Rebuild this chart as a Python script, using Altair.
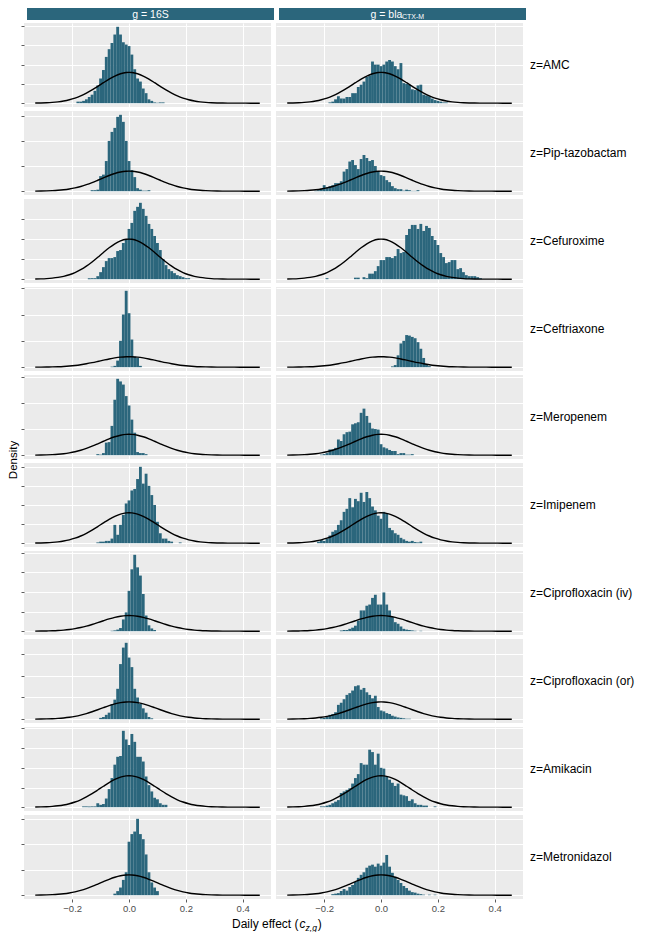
import altair as alt
import pandas as pd

# ---------------- data ----------------
antibiotics = ["AMC", "Pip-tazobactam", "Cefuroxime", "Ceftriaxone", "Meropenem",
               "Imipenem", "Ciprofloxacin (iv)", "Ciprofloxacin (or)", "Amikacin", "Metronidazol"]
row_labels = ["z=" + a for a in antibiotics]

bin_width = 0.01
# centre of the first bin of each histogram (one per row)
first_bin_16s = [-0.18, -0.13, -0.14, -0.06, -0.11, -0.11, -0.06, -0.10, -0.16, -0.05]
first_bin_ctx = [-0.18, -0.23, -0.19, 0.04, -0.21, -0.22, -0.14, -0.21, -0.21, -0.17]

# histogram densities, g = 16S
amc_16s = [0.2, 0.2, 0.3, 0.5, 0.8, 1.1, 1.6, 2.3, 3.2, 4.3, 6.0, 7.0, 7.8, 8.9, 9.9, 8.9, 7.9, 7.6, 7.4, 6.3,
           4.4, 3.2, 2.8, 1.9, 1.3, 0.5, 0.3, 0.1, 0.05, 0.1, 0.1]
pip_16s = [0.2, 0.2, 0.3, 3.0, 3.3, 6.0, 10.0, 11.8, 12.6, 14.8, 15.2, 13.8, 10.0, 6.0, 4.2, 2.8, 0.6, 0.3,
           0.1, 0.1, 0.2]
cfx_16s = [0.1, 0.1, 0.1, 0.3, 0.7, 1.2, 1.8, 2.1, 2.1, 2.2, 2.8, 2.9, 3.6, 4.0, 5.0, 5.6, 6.8, 7.2, 7.6, 7.0,
           6.3, 5.5, 5.0, 4.3, 3.6, 2.9, 2.0, 1.4, 1.0, 0.8, 0.6, 0.4, 0.3, 0.2, 0.1, 0.1]
cro_16s = [0.2, 0.5, 2.5, 10.0, 20.0, 29.0, 20.5, 10.5, 4.0, 3.5, 0.5]
mer_16s = [0.2, 0.1, 0.4, 2.4, 2.5, 5.6, 10.6, 14.6, 14.1, 13.5, 11.3, 9.5, 6.8, 4.3, 0.6, 0.4, 0.4, 0.2]
imi_16s = [0.1, 0.2, 0.2, 0.3, 0.3, 0.6, 2.4, 1.1, 2.4, 3.7, 5.2, 5.6, 6.9, 7.1, 8.4, 10.0, 7.8, 9.1, 7.5, 6.3,
           5.0, 2.8, 1.3, 0.6, 0.6, 0.3, 0.2, 0, 0, 0.1]
civ_16s = [0.1, 0.2, 0.4, 0.8, 3.0, 4.8, 10.3, 15.8, 19.5, 16.3, 14.2, 9.5, 4.0, 1.5, 0.7, 0.3]
cor_16s = [0.3, 0.5, 1.0, 1.5, 3.5, 4.5, 7.0, 12.7, 16.5, 17.6, 14.2, 12.0, 7.0, 5.0, 3.5, 2.5, 1.5, 0.5, 0.2]
ami_16s = [0.1, 0.1, 0.1, 0.1, 0.1, 0.5, 0.3, 0.4, 1.1, 2.3, 3.7, 5.4, 6.4, 6.5, 9.7, 8.6, 7.9, 9.3, 8.3, 6.4,
           6.4, 5.8, 3.9, 2.8, 2.0, 1.2, 1.0, 0.5, 0.3, 0.3]
met_16s = [0.3, 0.8, 1.5, 3.0, 4.5, 10.5, 12.0, 12.5, 15.0, 12.0, 11.0, 8.0, 4.5, 2.5, 1.5, 0.8]

# histogram densities, g = blaCTX-M
amc_ctx = [0.1, 0.2, 0.5, 0.9, 0.6, 0.6, 0.8, 0.8, 1.3, 1.3, 2.1, 2.4, 2.8, 3.4, 3.6, 5.4, 5.0, 5.0, 4.8, 5.0,
           5.4, 5.6, 5.4, 4.8, 4.4, 5.2, 2.6, 2.5, 2.4, 1.8, 1.7, 2.3, 2.4, 1.1, 1.0, 0.9, 0.6, 0.4, 0.3, 0.2,
           0.1, 0.1]
pip_ctx = [0.1, 0.2, 0.5, 1.2, 0.8, 1.0, 1.2, 1.6, 1.6, 2.0, 3.9, 4.4, 5.9, 6.2, 5.2, 4.4, 6.4, 7.2, 6.6, 6.0,
           6.2, 5.0, 4.0, 3.2, 3.0, 2.2, 1.8, 1.0, 0.6, 0.4, 0.4, 0.1, 0.3, 0.2, 0.05, 0.05, 0.2]
cfx_ctx = [0.1, 0, 0, 0, 0, 0, 0, 0, 0, 0, 0.15, 0.15, 0, 0.2, 0.1, 0.55, 0.55, 0.8, 1.3,
           1.9, 1.9, 2.2, 2.2, 2.1, 2.3, 3.0, 2.6, 2.7, 4.4, 5.0, 5.4, 5.4, 5.0, 5.5, 4.8, 5.3, 5.1, 4.3, 3.9,
           3.4, 2.6, 2.2, 1.6, 1.7, 1.9, 1.9, 1.0, 1.1, 0.7, 0.4, 0.3, 0.3, 0.3, 0.2, 0.1]
cro_ctx = [0.3, 0.8, 4.5, 9.0, 10.0, 12.2, 12.0, 11.5, 11.0, 9.5, 7.0, 3.5, 1.2, 0.4]
mer_ctx = [0.1, 0.2, 0.4, 1.1, 1.1, 1.4, 3.0, 2.7, 4.0, 4.4, 4.5, 5.9, 6.1, 6.3, 8.1, 8.9, 7.5, 6.2, 5.1, 5.0,
           4.9, 2.1, 1.5, 1.3, 1.0, 0.8, 0.8, 0.2, 0.4, 0.4, 0.1, 0.1, 0.2]
imi_ctx = [0.2, 0.4, 0.3, 0.6, 1.0, 1.5, 1.7, 2.4, 3.0, 4.1, 4.5, 5.9, 4.7, 5.8, 5.5, 6.6, 5.4, 6.7, 5.9, 4.8,
           4.3, 3.6, 3.2, 4.1, 3.9, 2.0, 1.7, 1.3, 1.1, 0.7, 0.5, 0.3, 0.2, 0.3, 0.15, 0.1, 0.2]
civ_ctx = [0.2, 0.3, 0.3, 0.6, 0.9, 1.4, 2.7, 5.3, 5.3, 6.5, 6.8, 8.5, 9.3, 6.8, 6.8, 9.9, 6.8, 5.3, 3.6, 2.3,
           1.9, 1.2, 0.6, 0.4, 0.3, 0.2, 0.1, 0, 0.1]
cor_ctx = [0.2, 0.3, 0.5, 1.0, 1.2, 1.6, 3.3, 3.8, 4.6, 5.6, 6.0, 6.6, 7.6, 7.8, 6.8, 7.2, 6.2, 5.6, 4.8, 5.4,
           2.8, 2.0, 1.8, 1.4, 1.2, 0.8, 0.6, 0.4, 0.3, 0.2, 0.1, 0.1]
ami_ctx = [0.1, 0.1, 0.2, 0.3, 0.5, 0.7, 0.9, 1.8, 2.0, 2.2, 2.4, 3.0, 3.7, 4.2, 5.6, 5.4, 5.4, 7.3, 7.0, 5.4,
           6.8, 5.0, 4.9, 3.9, 3.5, 3.1, 2.7, 3.0, 1.6, 1.5, 1.4, 0.8, 1.0, 0.5, 0.3, 0.3, 0.2, 0.2, 0, 0, 0.1]
met_ctx = [0.2, 0.3, 0.4, 0.8, 1.2, 0.9, 1.6, 2.0, 2.6, 3.4, 4.0, 4.5, 5.4, 5.8, 6.0, 5.6, 6.2, 5.8, 6.4, 7.9,
           5.6, 4.4, 3.6, 3.0, 2.4, 1.8, 1.4, 0.9, 0.6, 0.5, 0.3, 0.2, 0.1, 0, 0.1, 0, 0.1]

dens_16s = [amc_16s, pip_16s, cfx_16s, cro_16s, mer_16s, imi_16s, civ_16s, cor_16s, ami_16s, met_16s]
dens_ctx = [amc_ctx, pip_ctx, cfx_ctx, cro_ctx, mer_ctx, imi_ctx, civ_ctx, cor_ctx, ami_ctx, met_ctx]

# prior density curve (black line)
prior_x = [-0.33, -0.31, -0.29, -0.27, -0.25, -0.23, -0.21, -0.19, -0.17, -0.15, -0.13, -0.11, -0.09,
           -0.07, -0.05, -0.03, -0.01, 0.0, 0.01, 0.03, 0.05, 0.07, 0.09, 0.11, 0.13, 0.15, 0.17, 0.19,
           0.21, 0.23, 0.25, 0.27, 0.29, 0.31, 0.33, 0.35, 0.37, 0.39, 0.41, 0.43, 0.45, 0.46]
prior_density = [0.017, 0.033, 0.060, 0.104, 0.175, 0.283, 0.440, 0.656, 0.941, 1.295, 1.714, 2.179, 2.661,
                 3.123, 3.521, 3.814, 3.970, 3.989, 3.970, 3.814, 3.521, 3.123, 2.661, 2.179, 1.714, 1.295,
                 0.941, 0.656, 0.440, 0.283, 0.175, 0.104, 0.060, 0.033, 0.017, 0.009, 0.004, 0.002, 0.001,
                 0.0004, 0.0002, 0.0001]

y_break_step = [2.5, 5, 2, 10, 5, 2.5, 5, 5, 2.5, 5]
x_breaks = [-0.2, 0.0, 0.2, 0.4]
x_domain = [-0.3695, 0.4995]

# ---------------- styling ----------------
TEAL = "#2B667C"
FONT = "Liberation Sans"
PW, PH = 247, 84
TICK = 3
VSP = 4
LABEL_W = 110
YT_W = 12

prior_df = pd.DataFrame({"x": prior_x, "density": prior_density})
one = pd.DataFrame({"k": [0]})


def hist_frame(first, dens):
    rec = []
    for i, d in enumerate(dens):
        if d > 0:
            c = first + i * bin_width
            rec.append({"lo": c - bin_width / 2, "hi": c + bin_width / 2, "density": d})
    return pd.DataFrame(rec)


def panel(first, dens, ymax, step, show_x, show_yticks):
    top = 1.05 * ymax
    yvals = []
    k = 0
    while k * step <= top + 1e-9:
        yvals.append(k * step)
        k += 1
    xs = alt.Scale(domain=x_domain, nice=False, zero=False)
    ys = alt.Scale(domain=[-0.05 * ymax, top], nice=False, zero=False)
    xax = alt.Axis(values=x_breaks, format=".1f", labels=show_x, ticks=show_x, domain=False, title=None,
                   grid=True, gridColor="white", gridWidth=1.1, labelFont=FONT, labelFontSize=9.5,
                   labelColor="#4D4D4D", labelPadding=1, tickSize=TICK, tickColor="#333333", tickWidth=0.8)
    yax = alt.Axis(values=yvals, labels=False, ticks=show_yticks, domain=False, title=None,
                   grid=True, gridColor="white", gridWidth=1.1, tickSize=TICK, tickColor="#333333",
                   tickWidth=0.8)
    bars = alt.Chart(hist_frame(first, dens)).mark_bar(color=TEAL).encode(
        x=alt.X("lo:Q", scale=xs, axis=xax),
        x2="hi:Q",
        y=alt.Y("density:Q", scale=ys, axis=yax),
        y2=alt.datum(0),
    )
    curve = alt.Chart(prior_df).mark_line(color="black", strokeWidth=1.4, interpolate="monotone").encode(
        x=alt.X("x:Q", scale=xs, axis=xax),
        y=alt.Y("density:Q", scale=ys, axis=yax),
    )
    return alt.layer(bars, curve).properties(
        width=PW, height=PH, view=alt.ViewBackground(fill="#EBEBEB", stroke=None))


def text_layer(txt, x, y, size, color="black", align="left", baseline="alphabetic", italic=False, angle=0):
    kw = dict(align=align, baseline=baseline, font=FONT, fontSize=size, color=color)
    if italic:
        kw["fontStyle"] = "italic"
    if angle:
        kw["angle"] = angle
    return alt.Chart(one).mark_text(**kw).encode(x=alt.value(x), y=alt.value(y), text=alt.value(txt))


# strips on top
strip_l = alt.layer(
    alt.Chart(one).mark_rect(color=TEAL).encode(x=alt.value(TICK), x2=alt.value(TICK + PW),
                                                y=alt.value(0), y2=alt.value(12)),
    text_layer("g = 16S", TICK + PW / 2, 9.5, 10.5, color="white", align="center"),
).properties(width=TICK + PW, height=12)
strip_r = alt.layer(
    alt.Chart(one).mark_rect(color=TEAL).encode(x=alt.value(0), x2=alt.value(PW),
                                                y=alt.value(0), y2=alt.value(12)),
    text_layer("g = bla", PW / 2 - 32, 9.5, 10.5, color="white"),
    text_layer("CTX-M", PW / 2 - 0.5, 11.2, 7, color="white"),
).properties(width=PW, height=12)
strip_row = alt.hconcat(strip_l, strip_r, spacing=5)

# panel rows
row_charts = []
for i in range(10):
    ymax = max(max(dens_16s[i]), max(dens_ctx[i]), max(prior_density))
    last = i == 9
    left = panel(first_bin_16s[i], dens_16s[i], ymax, y_break_step[i], last, True)
    right = panel(first_bin_ctx[i], dens_ctx[i], ymax, y_break_step[i], last, False)
    lab = text_layer(row_labels[i], 2, PH / 2, 12, baseline="middle").properties(width=LABEL_W, height=PH)
    row_charts.append(alt.hconcat(left, right, lab, spacing=5))
rows = alt.vconcat(*row_charts, spacing=VSP)

# x-axis title with italic subscript
cx = TICK + (2 * PW + 5) / 2
start = cx - 44.5
xtitle = alt.layer(
    text_layer("Daily effect (", start, 13, 12),
    text_layer("c", start + 67.6, 13, 12, italic=True),
    text_layer("z,g", start + 73.6, 15.5, 8.5, italic=True),
    text_layer(")", start + 85.8, 13, 12),
).properties(width=TICK + 2 * PW + 5, height=17)

main = alt.vconcat(strip_row, rows, xtitle, spacing=2)

rows_center = 12 + 2 + (10 * PH + 9 * VSP) / 2
ytitle = text_layer("Density", YT_W / 2, rows_center, 11.5, align="center", baseline="middle",
                    angle=270).properties(width=YT_W, height=880)

chart = alt.hconcat(ytitle, main, spacing=0).properties(
    padding={"left": 0, "top": 0, "right": 0, "bottom": 0}
).configure_view(stroke=None).configure_axis(minExtent=0)

chart.save("out.html", embed_options={"renderer": "svg", "actions": False})
